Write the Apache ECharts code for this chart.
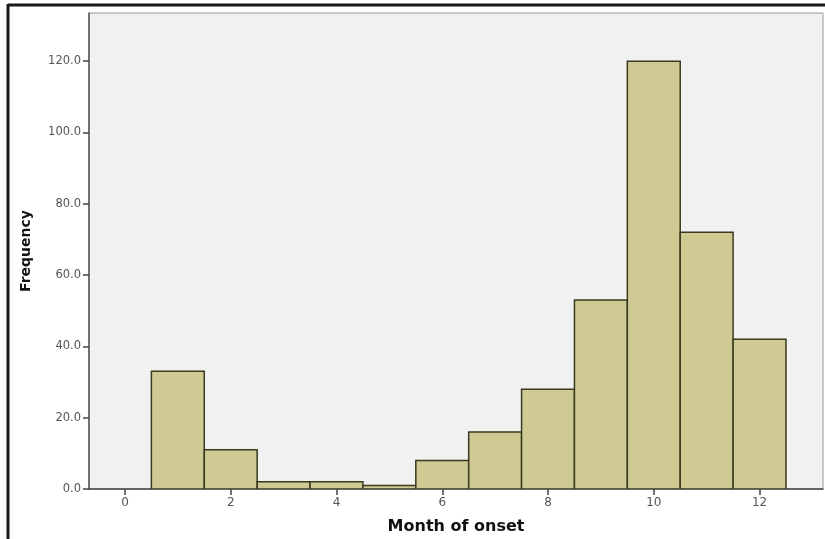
<!DOCTYPE html>
<html><head><meta charset="utf-8">
<script src="https://cdn.jsdelivr.net/npm/echarts@6/dist/echarts.min.js"></script>
<style>html,body{margin:0;padding:0;background:#fff}#c{width:825px;height:539px}</style>
</head><body><div id="c"></div>
<script>
var months = [1,2,3,4,5,6,7,8,9,10,11,12];
var frequency = [33,11,2,2,1,8,16,28,53,120,72,42];
var xTicks = [0,2,4,6,8,10,12];
var yTicks = [0,20,40,60,80,100,120];

var chart = echarts.init(document.getElementById('c'));
var data = months.map(function(m,i){return [m, frequency[i]];});
chart.setOption({
  animation:false,
  graphic:[
    {type:'line',shape:{x1:8,y1:5,x2:825,y2:5},style:{stroke:'#1a1a1a',lineWidth:3},z:100},
    {type:'line',shape:{x1:8,y1:4,x2:8,y2:539},style:{stroke:'#1a1a1a',lineWidth:3},z:100}
  ],
  grid:{left:89,top:13,right:2,bottom:50,outerBoundsMode:'none',containLabel:false,show:true,backgroundColor:'#f1f1f1',borderColor:'#9a9a9a',borderWidth:1},
  xAxis:{type:'value',min:-0.68,max:13.2,interval:2,
    name:'Month of onset',nameLocation:'middle',nameGap:30,
    nameTextStyle:{fontFamily:'DejaVu Sans',fontWeight:'bold',fontSize:16,color:'#111'},
    axisLine:{show:true,onZero:false,lineStyle:{color:'#444',width:1.5}},
    axisTick:{show:true,length:6,lineStyle:{color:'#444',width:1.5},customValues:xTicks},
    axisLabel:{customValues:xTicks,fontFamily:'DejaVu Sans',fontSize:12,color:'#555',margin:8,
      formatter:function(v){return String(v);}},
    splitLine:{show:false}},
  yAxis:{type:'value',min:0,max:133.5,interval:20,
    name:'Frequency',nameLocation:'middle',nameGap:56,
    nameTextStyle:{fontFamily:'DejaVu Sans',fontWeight:'bold',fontSize:14,color:'#111'},
    axisLine:{show:true,onZero:false,lineStyle:{color:'#555',width:1.5}},
    axisTick:{show:true,length:6,lineStyle:{color:'#444',width:1.5},customValues:yTicks},
    axisLabel:{customValues:yTicks,fontFamily:'DejaVu Sans',fontSize:11.5,color:'#555',margin:8,
      formatter:function(v){return v.toFixed(1);}},
    splitLine:{show:false}},
  series:[{type:'custom',data:data,clip:true,
    renderItem:function(params,api){
      var x=api.value(0), y=api.value(1);
      var p1=api.coord([x-0.5,y]), p2=api.coord([x+0.5,0]);
      return {type:'rect',shape:{x:p1[0],y:p1[1],width:p2[0]-p1[0],height:p2[1]-p1[1]},
        style:{fill:'#cfca94',stroke:'#3a3a1e',lineWidth:1.5}};
    },
    encode:{x:0,y:1}}]
});
</script></body></html>
